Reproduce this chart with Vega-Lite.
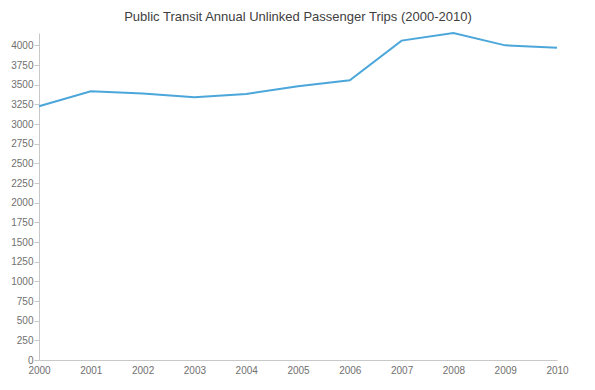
{
  "$schema": "https://vega.github.io/schema/vega-lite/v6.json",
  "width": 518,
  "height": 327,
  "autosize": "none",
  "padding": {"left": 39, "top": 33, "right": 38, "bottom": 30},
  "title": {
    "text": "Public Transit Annual Unlinked Passenger Trips (2000-2010)",
    "font": "Liberation Sans",
    "fontSize": 13,
    "fontWeight": "normal",
    "color": "#404040",
    "anchor": "middle",
    "offset": 5
  },
  "config": {
    "view": {"stroke": null},
    "axis": {
      "labelFont": "Liberation Sans",
      "labelFontSize": 10,
      "labelColor": "#707070",
      "domainColor": "#c8c8c8",
      "tickColor": "#c8c8c8",
      "grid": false,
      "title": null
    }
  },
  "data": {
    "values": [
      {"year": 2000, "trips": 3225},
      {"year": 2001, "trips": 3416},
      {"year": 2002, "trips": 3387},
      {"year": 2003, "trips": 3340},
      {"year": 2004, "trips": 3383},
      {"year": 2005, "trips": 3480},
      {"year": 2006, "trips": 3556},
      {"year": 2007, "trips": 4060},
      {"year": 2008, "trips": 4157},
      {"year": 2009, "trips": 4000},
      {"year": 2010, "trips": 3971}
    ]
  },
  "mark": {"type": "line", "color": "#4ba6da", "strokeWidth": 2},
  "encoding": {
    "x": {
      "field": "year",
      "type": "quantitative",
      "scale": {"domain": [2000, 2010], "nice": false, "zero": false},
      "axis": {
        "values": [2000, 2001, 2002, 2003, 2004, 2005, 2006, 2007, 2008, 2009, 2010],
        "format": "d",
        "ticks": false,
        "labelPadding": 5,
        "labelFlush": false,
        "labelOverlap": false
      }
    },
    "y": {
      "field": "trips",
      "type": "quantitative",
      "scale": {"nice": false, "zero": true},
      "axis": {
        "values": [0, 250, 500, 750, 1000, 1250, 1500, 1750, 2000, 2250, 2500, 2750, 3000, 3250, 3500, 3750, 4000],
        "format": "d",
        "tickSize": 5,
        "labelPadding": 1,
        "labelOverlap": false
      }
    }
  }
}
